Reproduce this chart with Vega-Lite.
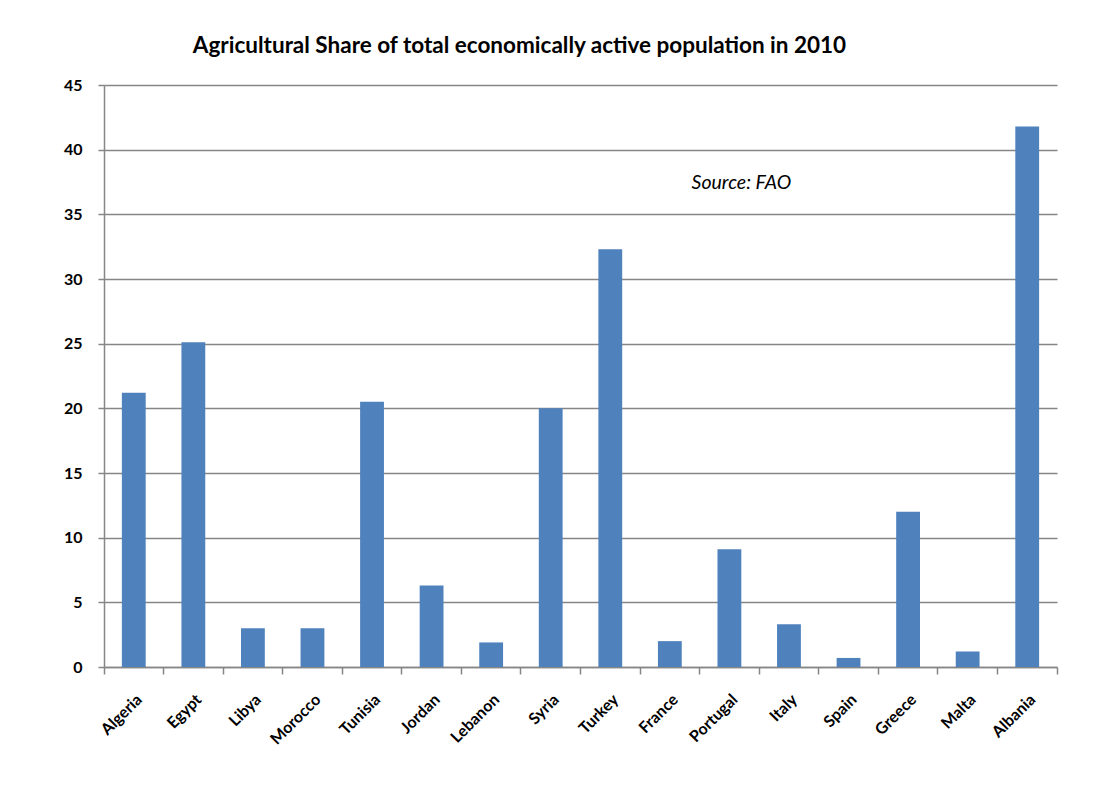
{
  "$schema": "https://vega.github.io/schema/vega-lite/v6.json",
  "autosize": {"type": "none"},
  "width": 953,
  "height": 582,
  "padding": {"left": 104, "top": 85, "right": 45, "bottom": 127},
  "background": "white",
  "title": {
    "text": "Agricultural Share of total economically active population in 2010",
    "font": "Lato",
    "fontSize": 22.5,
    "fontWeight": "bold",
    "color": "#000000",
    "anchor": "middle",
    "dx": -61,
    "offset": 20
  },
  "data": {
    "values": [
      {"country": "Algeria", "share": 21.2},
      {"country": "Egypt", "share": 25.1},
      {"country": "Libya", "share": 3.0},
      {"country": "Morocco", "share": 3.0},
      {"country": "Tunisia", "share": 20.5},
      {"country": "Jordan", "share": 6.3},
      {"country": "Lebanon", "share": 1.9},
      {"country": "Syria", "share": 20.0},
      {"country": "Turkey", "share": 32.3},
      {"country": "France", "share": 2.0},
      {"country": "Portugal", "share": 9.1},
      {"country": "Italy", "share": 3.3},
      {"country": "Spain", "share": 0.7},
      {"country": "Greece", "share": 12.0},
      {"country": "Malta", "share": 1.2},
      {"country": "Albania", "share": 41.8}
    ]
  },
  "layer": [
    {
      "mark": {"type": "bar", "color": "#4F81BD", "width": {"band": 0.4}},
      "encoding": {
        "x": {
          "field": "country",
          "type": "nominal",
          "sort": null,
          "scale": {"paddingInner": 0, "paddingOuter": 0},
          "axis": {
            "title": null,
            "labelAngle": -45,
            "labelFont": "Lato",
            "labelFontSize": 16,
            "labelFontWeight": "bold",
            "labelColor": "#000000",
            "labelPadding": 17,
            "bandPosition": 1,
            "tickExtra": true,
            "tickSize": 7,
            "tickColor": "#868686",
            "tickWidth": 1.5,
            "domainColor": "#868686",
            "domainWidth": 1.5,
            "grid": false
          }
        },
        "y": {
          "field": "share",
          "type": "quantitative",
          "scale": {"domain": [0, 45], "nice": false},
          "axis": {
            "title": null,
            "values": [0, 5, 10, 15, 20, 25, 30, 35, 40, 45],
            "labelFont": "Lato",
            "labelFontSize": 16,
            "labelFontWeight": "bold",
            "labelColor": "#000000",
            "labelPadding": 16,
            "tickSize": 6,
            "tickColor": "#868686",
            "tickWidth": 1.5,
            "domainColor": "#868686",
            "domainWidth": 1.5,
            "grid": true,
            "gridColor": "#868686",
            "gridWidth": 1.5
          }
        }
      }
    },
    {
      "data": {"values": [{"country": "Portugal", "share": 37.4, "note": "Source: FAO"}]},
      "mark": {
        "type": "text",
        "font": "Lato",
        "fontSize": 19.5,
        "fontStyle": "italic",
        "color": "#000000",
        "align": "center",
        "baseline": "middle",
        "dx": 12
      },
      "encoding": {
        "x": {"field": "country", "type": "nominal", "sort": null},
        "y": {"field": "share", "type": "quantitative"},
        "text": {"field": "note"}
      }
    }
  ],
  "config": {
    "view": {"stroke": null}
  }
}
